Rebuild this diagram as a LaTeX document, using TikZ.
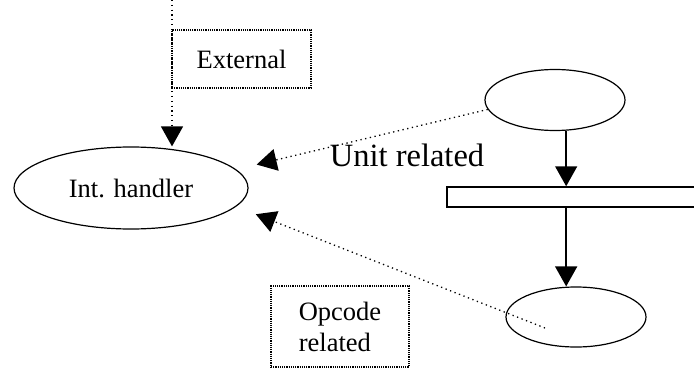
\documentclass[tikz,border=0pt]{standalone}
\usepackage{fontspec}
\setmainfont{Liberation Serif}
\usetikzlibrary{shapes.geometric,arrows.meta}

\begin{document}
\begin{tikzpicture}[
        x=1pt, y=-1pt,
        state/.style={draw, ellipse, line width=1.2pt, inner sep=0pt},
        notebox/.style={draw, line width=1.2pt, dash pattern=on 1.2pt off 1pt, inner sep=0pt},
        flow/.style={line width=1.5pt, -{Triangle[length=20pt,width=22pt]}},
        hint/.style={line width=1.3pt, dash pattern=on 1.3pt off 3.5pt, -{Triangle[length=20pt,width=22pt]}},
        txt/.style={font=\fontsize{26.5}{31}\selectfont}
    ]
        \useasboundingbox (0,0) rectangle (694,369);

        % left side
        \node[state, txt, minimum width=234pt, minimum height=82pt] (handler) at (131,188) {Int. handler};
        \node[notebox, txt, minimum width=139pt, minimum height=58pt] (external) at (241.5,59) {External};
        \coordinate (top) at (172,0);
        \draw[hint] (top) -- (top |- handler.north);

        % right side
        \node[state, minimum width=140pt, minimum height=61pt] (unit) at (555,100) {};
        \node[draw, line width=1.5pt, minimum width=253pt, minimum height=20pt, inner sep=0pt] (bar) at (573.5,197) {};
        \node[state, minimum width=140pt, minimum height=60pt] (opu) at (576,317) {};
        \draw[flow] (unit.-70) -- (unit.-70 |- bar.north);
        \draw[flow] (unit.-70 |- bar.south) -- (unit.-70 |- opu.north);

        % interrupt sources
        \node[font=\fontsize{32.5}{38}\selectfont] (unitlabel) at (407,155) {Unit related};
        \draw[hint, shorten >=21pt] (unit.188) -- (handler.10);

        \node[notebox, txt, align=left, minimum width=138pt, minimum height=81pt] (opcode) at (340,326.5) {Opcode\\related};
        \coordinate (opin) at ([shift={(-31,11)}]opu.center);
        \draw[hint, shorten >=21pt] (opin) -- (handler.-10);
    \end{tikzpicture}
\end{document}
